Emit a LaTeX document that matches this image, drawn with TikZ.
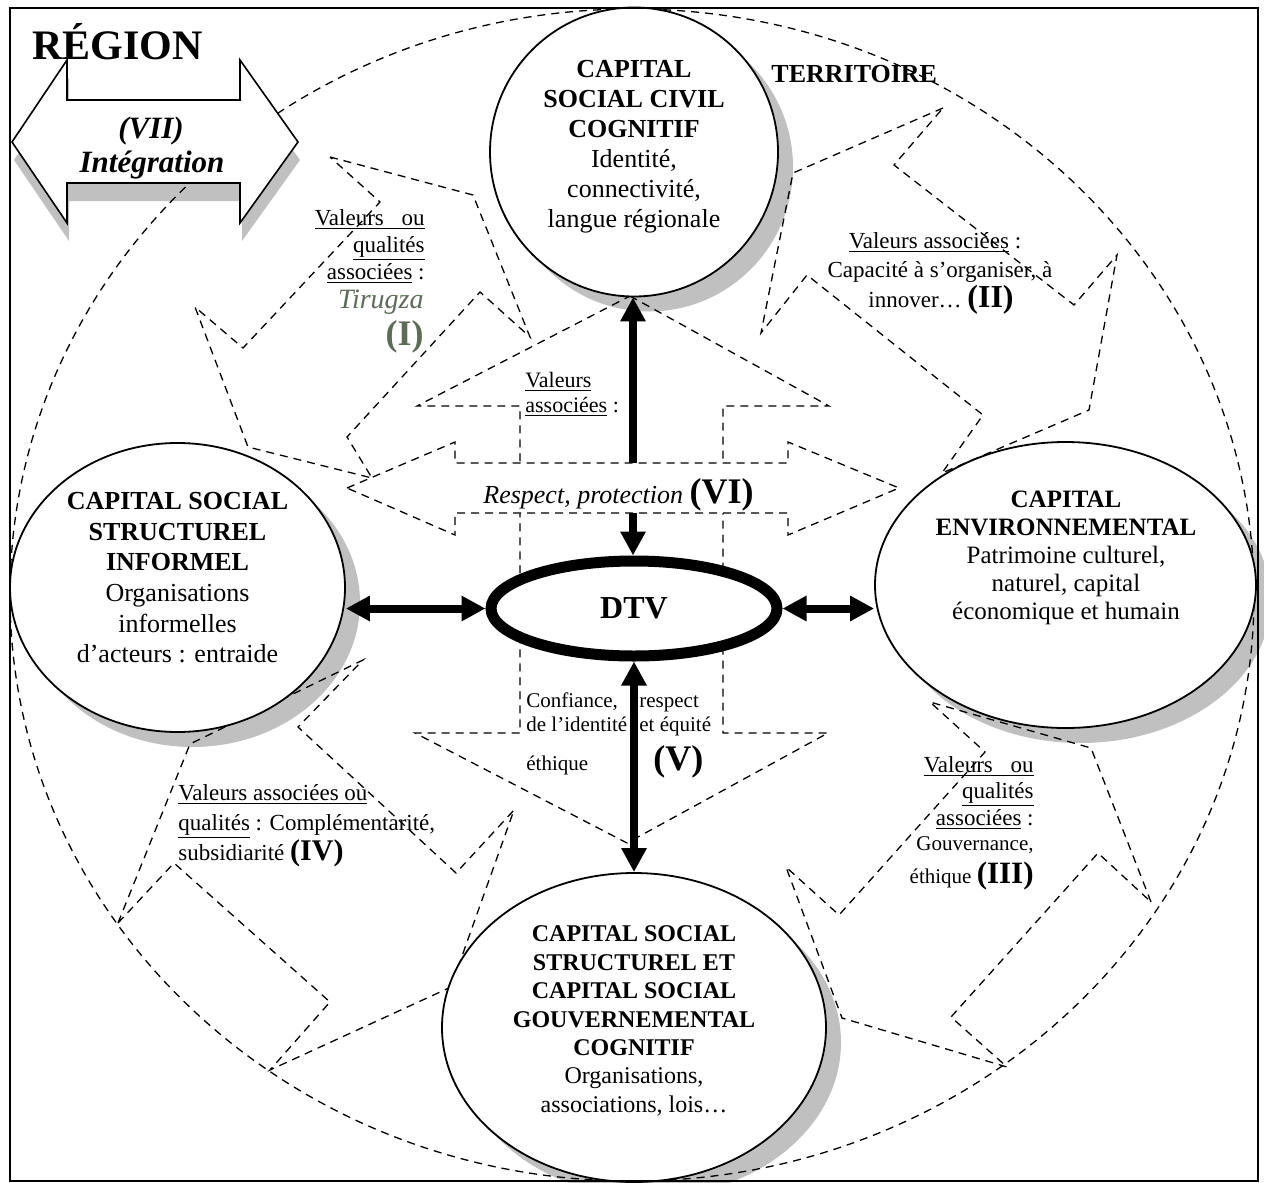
\documentclass[tikz,border=0pt]{standalone}
\usepackage{fontspec}
\setmainfont{Liberation Serif}
\usetikzlibrary{arrows.meta,shapes.geometric}
\definecolor{shadowgray}{RGB}{192,192,192}
\definecolor{tgreen}{RGB}{92,108,88}
\pgfdeclarelayer{shadowlayer}
\pgfdeclarelayer{dashlayer}
\pgfsetlayers{shadowlayer,dashlayer,main}
\begin{document}
\begin{tikzpicture}[x=0.5pt,y=-0.5pt,
  dashline/.style={dash pattern=on 4pt off 3pt, line width=0.65pt},
  capnode/.style={ellipse, draw, line width=0.9pt, fill=white, inner sep=0pt},
  txt/.style={inner sep=0pt, align=center},
  lbl/.style={inner sep=0pt, font=\fontsize{11.5}{13.5}\selectfont},
  thickarrow/.style={line width=4pt, -{Triangle[length=12pt,width=12pt]}},
  thickdbl/.style={line width=4pt, {Triangle[length=12pt,width=12pt]}-{Triangle[length=12pt,width=12pt]}},
]
\useasboundingbox (0,0) rectangle (1264,1183);

% ---------- shadows ----------
\begin{pgfonlayer}{shadowlayer}
\fill[shadowgray] (14,160) -- (69,78) -- (69,118) -- (242,118) -- (242,78) -- (300,160) -- (242,241) -- (242,201) -- (69,201) -- (69,241) -- cycle;
\fill[shadowgray] (649,167) ellipse [x radius=72pt, y radius=72.25pt];
\fill[shadowgray] (192.5,602.5) ellipse [x radius=83.75pt, y radius=72.25pt];
\fill[shadowgray] (1080.5,600) ellipse [x radius=95.25pt, y radius=71.5pt];
\fill[shadowgray] (649,1042.5) ellipse [x radius=96pt, y radius=77.25pt];
\end{pgfonlayer}

% ---------- dashed shapes ----------
\begin{pgfonlayer}{dashlayer}
\draw[dashline] (632,595) ellipse [x radius=311pt, y radius=293pt];
% arrow I
\draw[dashline] (330,157) -- (473,195) -- (530,337) -- (480,292) -- (347,437) -- (372,478) -- (248,447) -- (195,307) -- (243,348) -- (380,202) -- cycle;
% arrow II
\draw[dashline] (943,108) -- (793,173) -- (761,333) -- (807,275) -- (983,415) -- (942,473) -- (1089,410) -- (1117,255) -- (1074,305) -- (894,165) -- cycle;
% arrow III
\draw[dashline] (1151,902) -- (1091,748) -- (930,702) -- (985,752) -- (839,915) -- (786,867) -- (842,1018) -- (1007,1067) -- (951,1017) -- (1098,853) -- cycle;
% arrow IV
\draw[dashline] (118,923) -- (190,744) -- (363,660) -- (298,727) -- (456,873) -- (514,810) -- (451,987) -- (270,1070) -- (330,1002) -- (174,863) -- cycle;
% vertical double arrow (V)
\draw[dashline] (630,296) -- (829,406) -- (723,406) -- (723,733) -- (828,733) -- (627,843) -- (415,733) -- (520,733) -- (520,406) -- (417,406) -- cycle;
% horizontal double arrow (VI)
\draw[dashline, fill=white] (347,488) -- (455,442) -- (455,463) -- (788,463) -- (788,442) -- (899,488) -- (788,535) -- (788,513) -- (455,513) -- (455,535) -- cycle;
\end{pgfonlayer}

% ---------- main nodes ----------
\node[capnode, minimum width=144pt, minimum height=144.5pt] (topc) at (634,152) {};
\node[txt, font=\fontsize{13}{15}\selectfont] (topct) at (634,146.5)
  {\textbf{CAPITAL}\\\textbf{SOCIAL CIVIL}\\\textbf{COGNITIF}\\Identité,\\connectivité,\\langue régionale};

\node[capnode, minimum width=167.5pt, minimum height=144.5pt] (lefte) at (177.5,587.5) {};
\node[txt, font=\fontsize{13}{15.3}\selectfont] (leftt) at (177.5,577.7)
  {\textbf{CAPITAL SOCIAL}\\\textbf{STRUCTUREL}\\\textbf{INFORMEL}\\Organisations\\informelles\\d’acteurs : entraide};

\node[capnode, minimum width=190.5pt, minimum height=143pt] (righte) at (1065.5,585) {};
\node[txt, font=\fontsize{12.5}{14.1}\selectfont] (rightt) at (1066,557.8)
  {\textbf{CAPITAL}\\\textbf{ENVIRONNEMENTAL}\\Patrimoine culturel,\\naturel, capital\\économique et humain};

\node[capnode, minimum width=192pt, minimum height=154.5pt] (botc) at (634,1027.5) {};
\node[txt, font=\fontsize{12}{14.2}\selectfont] (bott) at (634,1021)
  {\textbf{CAPITAL SOCIAL}\\\textbf{STRUCTUREL ET}\\\textbf{CAPITAL SOCIAL}\\\textbf{GOUVERNEMENTAL}\\\textbf{COGNITIF}\\Organisations,\\associations, lois…};

\node[ellipse, draw, line width=5.5pt, fill=white, minimum width=143pt, minimum height=47.5pt, inner sep=0pt,
  font=\fontsize{16}{18}\selectfont\bfseries] (dtv) at (634,608.5) {DTV};

% (VII) integration arrow
\draw[line width=0.8pt, fill=white] (12,142) -- (67,60) -- (67,100) -- (240,100) -- (240,60) -- (298,142) -- (240,223) -- (240,183) -- (67,183) -- (67,223) -- cycle;
\node[inner sep=0pt, anchor=base, font=\fontsize{15.5}{18}\selectfont\bfseries\itshape] (viia) at (151,138) {(VII)};
\node[inner sep=0pt, anchor=base, font=\fontsize{15.5}{18}\selectfont\bfseries\itshape] (viib) at (152,172) {Intégration};

% thick arrows
\coordinate (vtop) at (633,463);
\coordinate (vmid) at (633,513);
\draw[thickarrow] (vtop) -- (vtop |- topc.south);
\draw[thickarrow] (vmid) -- (vmid |- dtv.north);
\draw[thickdbl] (dtv.south) -- (dtv.south |- botc.north);
\draw[thickdbl] (dtv.west) -- (dtv.west -| lefte.east);
\draw[thickdbl] (dtv.east) -- (dtv.east -| righte.west);

% titles
\node[inner sep=0pt, anchor=base west, font=\fontsize{21}{24}\selectfont\bfseries] (region) at (32,59) {RÉGION};
\node[inner sep=0pt, anchor=base west, font=\fontsize{13}{15}\selectfont\bfseries] (terr) at (771,83) {TERRITOIRE};

% label I
\node[lbl, anchor=base east] (l1a) at (425,225) {\underline{Valeurs\hspace{6pt} ou}};
\node[lbl, anchor=base east] (l1b) at (425,252) {\underline{qualités}};
\node[lbl, anchor=base east] (l1c) at (425,279) {\underline{associées} :};
\node[lbl, anchor=base east, font=\fontsize{14}{16}\selectfont\itshape, text=tgreen] (l1d) at (424,308) {Tirugza};
\node[lbl, anchor=base east, font=\fontsize{18}{20}\selectfont\bfseries, text=tgreen] (l1e) at (424,345) {(I)};

% label II
\node[lbl, anchor=base] (l2a) at (935,248) {\underline{Valeurs associées} :};
\node[lbl, anchor=base] (l2b) at (940,277) {Capacité à s’organiser, à};
\node[lbl, anchor=base] (l2c) at (941,307) {innover… {\fontsize{16}{18}\selectfont\bfseries (II)}};

% label VI
\node[lbl, anchor=base west, font=\fontsize{11}{13}\selectfont] (l6a) at (525,387) {\underline{Valeurs}};
\node[lbl, anchor=base west, font=\fontsize{11}{13}\selectfont] (l6b) at (525,412) {\underline{associées} :};
\node[lbl, anchor=base west, font=\fontsize{13}{15}\selectfont] (l6c) at (483,503) {\textit{Respect, protection} {\fontsize{18}{20}\selectfont\bfseries (VI)}};

% label V
\node[lbl, anchor=base west, font=\fontsize{10.5}{12}\selectfont] (l5a) at (526,707) {Confiance,};
\node[lbl, anchor=base west, font=\fontsize{10.5}{12}\selectfont] (l5b) at (639,707) {respect};
\node[lbl, anchor=base west, font=\fontsize{10.5}{12}\selectfont] (l5c) at (526,731) {de l’identité};
\node[lbl, anchor=base west, font=\fontsize{10.5}{12}\selectfont] (l5d) at (639,731) {et équité};
\node[lbl, anchor=base west, font=\fontsize{10.5}{12}\selectfont] (l5e) at (526,770) {éthique};
\node[lbl, anchor=base west, font=\fontsize{18}{20}\selectfont\bfseries] (l5f) at (653,770) {(V)};

% label IV
\node[lbl, anchor=base west] (l4a) at (178,800) {\underline{Valeurs associées ou}};
\node[lbl, anchor=base west] (l4b) at (178,830) {\underline{qualités} : Complémentarité,};
\node[lbl, anchor=base west] (l4c) at (178,860) {subsidiarité {\fontsize{15}{17}\selectfont\bfseries (IV)}};

% label III
\node[lbl, anchor=base east] (l3a) at (1034,772) {\underline{Valeurs\hspace{6pt} ou}};
\node[lbl, anchor=base east] (l3b) at (1034,798) {\underline{qualités}};
\node[lbl, anchor=base east] (l3c) at (1034,825) {\underline{associées} :};
\node[lbl, anchor=base east, font=\fontsize{10.5}{12}\selectfont] (l3d) at (1034,850) {Gouvernance,};
\node[lbl, anchor=base east, font=\fontsize{10.5}{12}\selectfont] (l3e) at (1034,883) {éthique {\fontsize{15.5}{17}\selectfont\bfseries (III)}};

% frame
\draw[line width=1.2pt] (10,8) rectangle (1258,1181);
\end{tikzpicture}
\end{document}
